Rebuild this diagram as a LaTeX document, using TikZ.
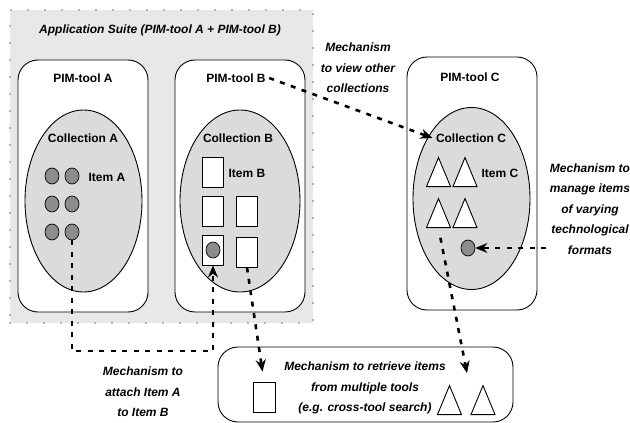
\documentclass[tikz,border=0pt]{standalone}
\usepackage{fontspec}
\setmainfont{Liberation Sans}
\usetikzlibrary{arrows.meta,shapes.geometric}

\begin{document}
\begin{tikzpicture}[x=1pt,y=-1pt,
  suite/.style={draw=black!55,fill=black!9,line width=1.9pt,line cap=round,dash pattern=on 0pt off 17pt},
  tool/.style={draw,fill=white,rounded corners=20pt,line width=0.9pt,minimum width=130pt,minimum height=252pt},
  coll/.style={draw,ellipse,fill=black!14,line width=0.9pt,minimum width=117pt,minimum height=182pt},
  dot/.style={draw,ellipse,fill=black!45,line width=0.7pt,minimum width=14pt,minimum height=16pt,inner sep=0pt},
  doc/.style={draw,fill=white,line width=0.9pt,minimum width=21pt,minimum height=30pt,inner sep=0pt},
  tri/.style={draw,fill=white,line width=0.9pt,isosceles triangle,isosceles triangle stretches,shape border rotate=90,minimum width=24pt,minimum height=29pt,inner sep=0pt,anchor=lower side},
  lbl/.style={font=\bfseries\fontsize{12}{14}\selectfont},
  note/.style={font=\bfseries\itshape\fontsize{12}{20.5}\selectfont,align=center},
  link/.style={line width=2.6pt,dash pattern=on 5pt off 6.5pt,-{Stealth[length=12pt,width=10pt]}}]
\useasboundingbox (0,0) rectangle (630,423);
\node[suite,minimum width=303pt,minimum height=313pt] (suite) at (161.5,166.5) {};
\node[note] (suiteTitle) at (160,30) {Application Suite (PIM-tool A + PIM-tool B)};

% PIM-tool A
\node[tool] (toolA) at (83,186) {};
\node[lbl] (toolALab) at (83,78) {PIM-tool A};
\node[coll] (collA) at (83.5,201) {};
\node[lbl] (collALab) at (83,138) {Collection A};
\foreach \r in {1,2,3}
  \foreach \c in {1,2}
    \node[dot] (a\r\c) at ({32+20*\c},{148+28*\r}) {};
\node[lbl,anchor=west] (itemA) at (85,177) {Item A};

% PIM-tool B
\node[tool] (toolB) at (240,186) {};
\node[lbl] (toolBLab) at (236,78) {PIM-tool B};
\node[coll,minimum width=120pt] (collB) at (240,201) {};
\node[lbl] (collBLab) at (238,138) {Collection B};
\node[doc] (b1) at (213,172) {};
\node[doc] (b2) at (213,211) {};
\node[doc] (b3) at (247,211) {};
\node[doc] (b4) at (213,250) {};
\node[doc] (b5) at (247,252) {};
\node[dot] (bdot) at (b4) {};
\node[lbl,anchor=west] (itemB) at (225,173) {Item B};

% PIM-tool C
\node[tool,minimum height=253pt] (toolC) at (472,183.5) {};
\node[lbl] (toolCLab) at (470,77) {PIM-tool C};
\node[coll] (collC) at (471.5,198.5) {};
\node[lbl] (collCLab) at (471,138) {Collection C};
\node[tri] (c1) at (438.5,187) {};
\node[tri] (c2) at (465,187) {};
\node[tri] (c3) at (438.5,228) {};
\node[tri] (c4) at (465,228) {};
\node[dot] (cdot) at (468,248) {};
\node[lbl,anchor=west] (itemC) at (478,173) {Item C};

% cross-tool search
\node[tool,minimum width=295pt,minimum height=75pt] (search) at (365.5,384.5) {};
\node[note] (searchTxt) at (365,388) {Mechanism to retrieve items\\from multiple tools\\(e.g. cross-tool search)};
\node[doc,minimum width=22pt] (sDoc) at (264,397) {};
\node[tri] (sTri1) at (449.5,415) {};
\node[tri] (sTri2) at (483,415) {};

% mechanisms
\node[note] (viewTxt) at (358,68) {Mechanism\\to view other\\collections};
\node[note] (attachTxt) at (143,392) {Mechanism to\\attach Item A\\to Item B};
\node[note] (manageTxt) at (590,209) {Mechanism to\\manage items\\of varying\\technological\\formats};

\coordinate (bendA) at (72,351);
\coordinate (bendB) at (213,351);
\coordinate (tipC) at (467,373);
\draw[link] (a32.south) -- (bendA) -- (bendB) -- (b4.south);
\draw[link] (toolBLab.east) -- (collCLab.west);
\draw[link,shorten >=10pt] (b5.south) -- (sDoc.north);
\draw[link,shorten <=10pt] (c3.lower side) -- (tipC);
\draw[link] (manageTxt.west |- cdot) -- (cdot);
\end{tikzpicture}
\end{document}
